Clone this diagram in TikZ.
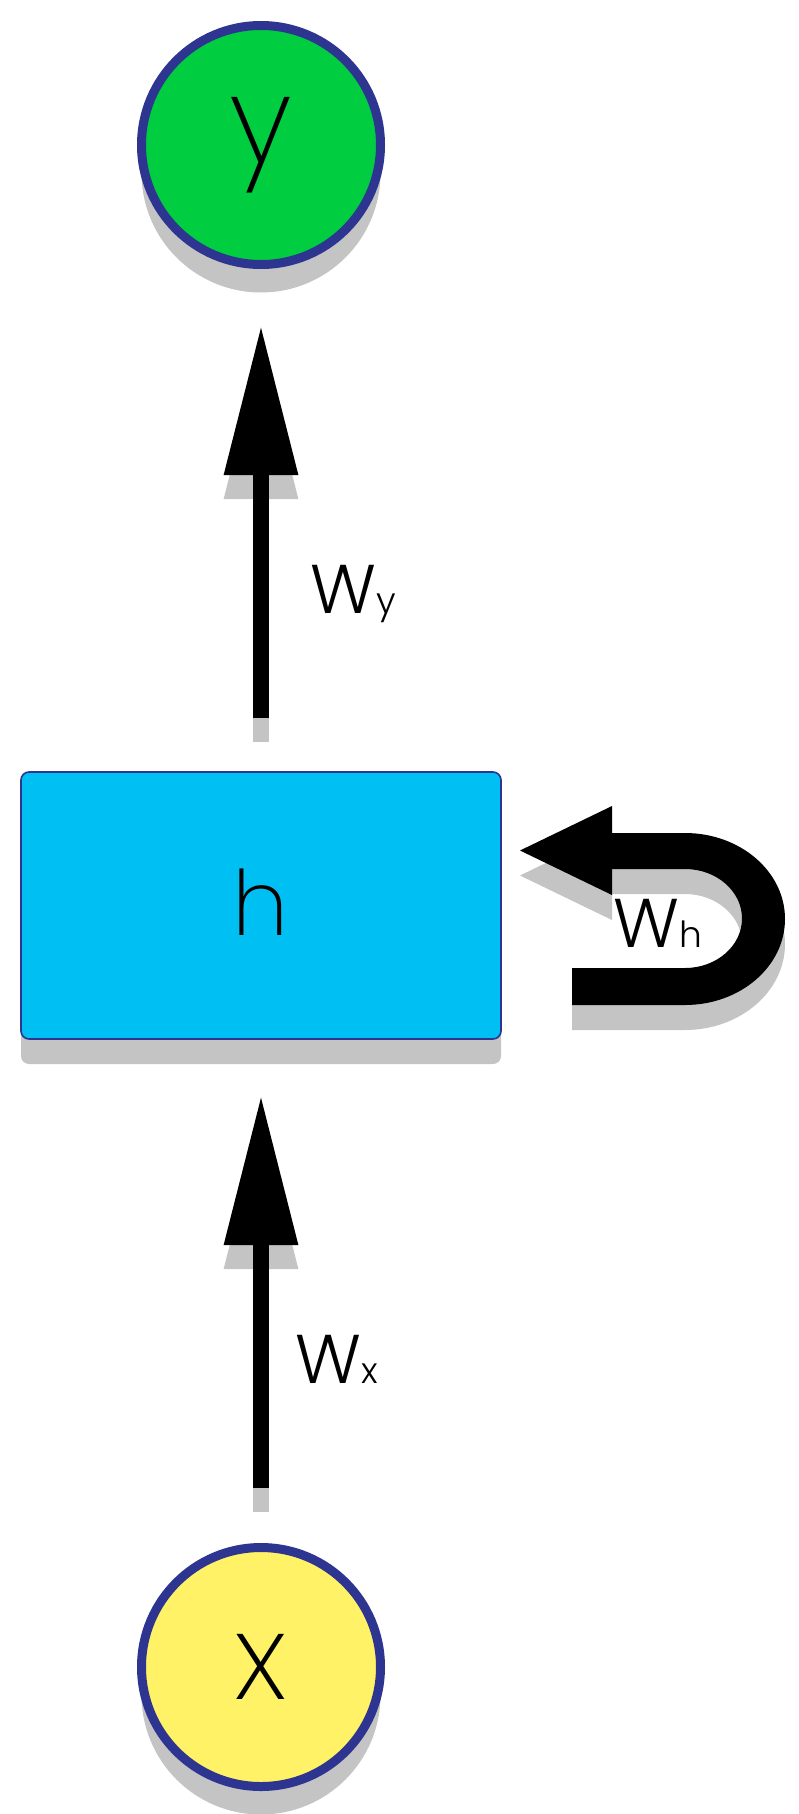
\documentclass[tikz,border=0pt]{standalone}
\usepackage{fontspec}
\setmainfont{Poppins}[UprightFont=* Light]
\newfontfamily\thinfont{Poppins}[UprightFont=* ExtraLight]
\usetikzlibrary{arrows.meta,positioning,shadows}

\definecolor{ringblue}{HTML}{2E3590}
\definecolor{outgreen}{HTML}{00CE40}
\definecolor{inyellow}{HTML}{FFF266}
\definecolor{hidcyan}{HTML}{00BFF3}
\definecolor{shadowgray}{HTML}{C4C4C4}

\newcommand{\wsub}[1]{{\fontsize{18}{20}\selectfont #1}}

\begin{document}
\begin{tikzpicture}[
  x=0.5pt,y=-0.5pt,
  unit/.style={circle,draw=ringblue,line width=4.5pt,minimum size=119.5pt,
               inner sep=0pt,outer sep=0pt,font=\thinfont\fontsize{60}{60}\selectfont,
               drop shadow={shadow xshift=0pt,shadow yshift=-14pt,
                            fill=shadowgray,opacity=1}},
  hidbox/.style={rectangle,rounded corners=4pt,draw=ringblue,line width=0.8pt,
                 fill=hidcyan,minimum width=240pt,minimum height=133.5pt,
                 inner sep=0pt,outer sep=0pt,font=\thinfont\fontsize{45}{45}\selectfont,
                 drop shadow={shadow xshift=0pt,shadow yshift=-12.5pt,
                              fill=shadowgray,opacity=1}},
  flow/.style={line width=8pt,-{Triangle[length=75pt,width=35pt]}},
  flowshadow/.style={flow,shadowgray,transform canvas={yshift=-12pt}},
  wlabel/.style={anchor=base west,inner sep=0pt,font=\fontsize{34.5}{40}\selectfont},
]
  \useasboundingbox (0,0) rectangle (798,1814);

  % Units
  \node[unit,fill=outgreen] (outy) at (261,145)    {y};
  \node[hidbox]             (hid)  at (261,905.5)  {\raisebox{3pt}{h}};
  \node[unit,fill=inyellow] (inx)  at (261,1667)   {x};

  % Weights
  \draw[flowshadow,shorten <=27pt,shorten >=30.25pt] (hid.north) -- (outy.south);
  \draw[flow,shorten <=27pt,shorten >=30.25pt] (hid.north) -- (outy.south);
  \draw[flowshadow,shorten <=29.75pt,shorten >=28pt] (inx.north) -- (hid.south);
  \draw[flow,shorten <=29.75pt,shorten >=28pt] (inx.north) -- (hid.south);

  % Recurrent loop
  \foreach \dy/\col in {25/shadowgray,0/black}
    \fill[\col,shift={(0,\dy)}] (572,1005) -- (685,1005)
      arc[start angle=90,end angle=-90,x radius=100,y radius=86]
      -- (612,833) -- (612,806) -- (520,850.5) -- (612,895) -- (612,869)
      -- (685,869)
      arc[start angle=-90,end angle=90,x radius=57,y radius=49.5]
      -- (572,968) -- cycle;

  % Labels
  \node[wlabel] (wy) at (310,613)  {W\wsub{y}};
  \node[wlabel] (wh) at (613,947)  {W\wsub{h}};
  \node[wlabel] (wx) at (295,1383) {W\wsub{x}};
\end{tikzpicture}
\end{document}
